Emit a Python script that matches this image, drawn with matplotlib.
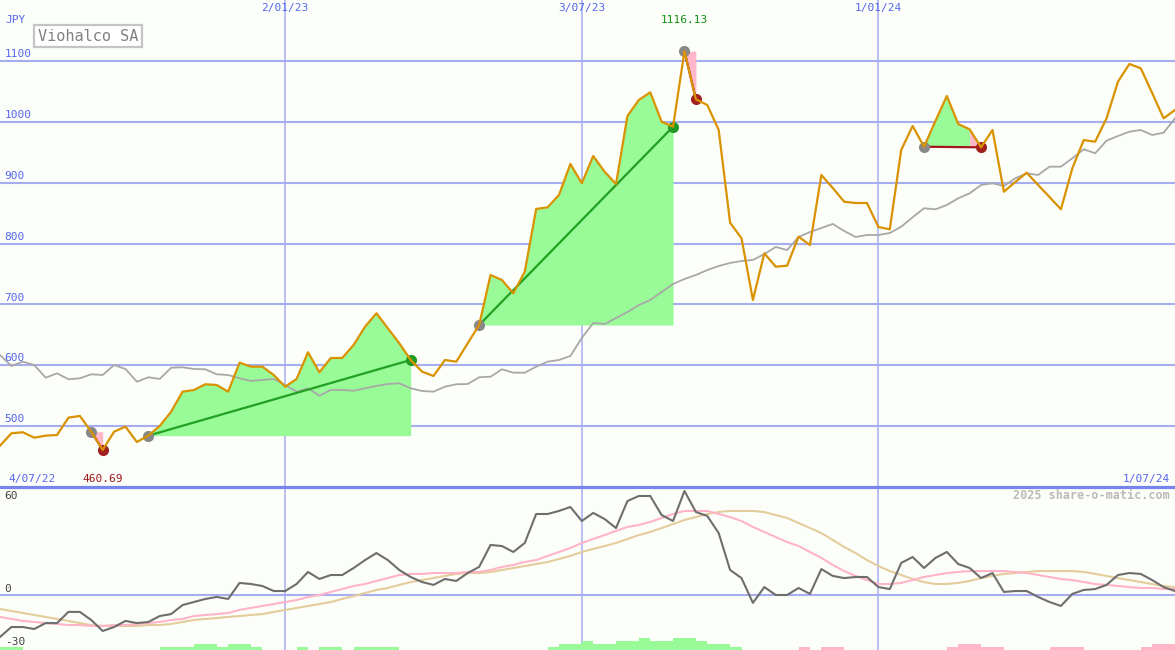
import numpy as np
import pandas as pd
import matplotlib
matplotlib.use("Agg")
import matplotlib.pyplot as plt

# -----------------------------
# Weekly data
# -----------------------------
dates = pd.date_range("2022-07-11", periods=104, freq="7D")

price = [
    467.6, 488.0, 489.7, 480.8, 484.1, 485.2, 513.7, 516.5, 490.6, 460.69,
    490.6, 498.9, 473.7, 484.1, 500.0, 523.5, 556.4, 559.2, 568.6, 567.4,
    556.4, 604.1, 597.5, 597.5, 583.8, 564.6, 577.3, 621.2, 588.3, 611.8,
    611.8, 633.2, 663.2, 685.3, 660.6, 636.0, 608.5, 589.3, 582.2, 608.5,
    605.7, 636.0, 666.0, 748.2, 740.0, 718.1, 753.7, 856.7, 859.5, 879.7,
    930.7, 899.0, 943.8, 918.0, 897.8, 1009.6, 1035.9, 1048.5, 1000.2, 992.0,
    1116.13, 1037.0, 1027.7, 986.6, 834.2, 808.6, 707.1, 783.9, 761.9, 763.5,
    811.2, 797.5, 912.6, 891.2, 868.7, 866.6, 866.6, 827.1, 823.3, 953.7,
    993.2, 959.1, 1001.4, 1042.5, 996.4, 987.7, 958.1, 986.6, 885.2, 901.1,
    916.4, 896.2, 876.4, 856.2, 923.6, 970.1, 967.3, 1005.8, 1066.0, 1095.1,
    1088.0, 1047.4, 1005.8, 1019.5,
]

moving_avg = [
    616.7, 598.6, 605.7, 600.3, 579.4, 586.6, 576.8, 578.4, 585.0, 583.8,
    600.3, 593.7, 572.8, 580.1, 577.3, 595.8, 596.5, 593.7, 593.2, 585.0,
    583.8, 578.4, 574.0, 575.6, 577.3, 567.4, 556.4, 562.0, 549.8, 559.2,
    559.2, 558.0, 562.0, 565.8, 569.0, 570.2, 562.0, 557.5, 556.4, 564.6,
    568.6, 569.0, 580.1, 581.0, 593.2, 587.6, 587.6, 597.5, 605.7, 608.5,
    615.1, 644.7, 669.3, 667.7, 677.5, 687.4, 698.9, 707.1, 720.3, 733.4,
    741.7, 748.2, 756.4, 763.0, 768.0, 771.2, 772.9, 782.7, 794.3, 789.3,
    810.7, 818.9, 825.5, 832.1, 820.6, 810.7, 814.0, 814.0, 817.3, 827.6,
    843.1, 857.9, 856.2, 863.3, 874.3, 882.5, 896.2, 899.0, 894.5, 907.2,
    915.4, 912.6, 926.3, 926.3, 940.1, 954.9, 948.3, 969.0, 976.7, 983.8,
    986.6, 978.4, 982.1, 1005.8,
]

oscillator = [
    -23.3, -17.8, -17.8, -18.9, -15.6, -15.6, -9.4, -9.4, -13.9, -20.0,
    -17.8, -14.4, -15.6, -15.0, -11.7, -10.6, -5.6, -3.9, -2.2, -1.1,
    -2.2, 6.7, 6.1, 5.0, 2.2, 2.2, 6.1, 12.8, 8.9, 11.1,
    11.1, 15.0, 19.4, 23.3, 19.4, 13.9, 10.0, 7.2, 5.6, 8.9,
    7.8, 12.2, 15.6, 27.8, 27.2, 23.9, 28.9, 45.0, 45.0, 46.7,
    48.9, 41.1, 45.6, 42.2, 37.2, 52.2, 55.0, 55.0, 44.4, 41.1,
    57.8, 46.1, 43.9, 34.4, 13.9, 9.4, -4.4, 4.4, 0.0, 0.0,
    3.9, 0.6, 14.4, 10.6, 9.4, 10.0, 10.0, 4.4, 3.3, 17.8,
    21.1, 15.0, 20.6, 23.9, 17.2, 15.0, 9.4, 12.2, 1.7, 2.2,
    2.2, -1.1, -3.9, -6.1, 0.6, 2.8, 3.3, 5.6, 11.1, 12.2,
    11.7, 8.3, 4.4, 2.2,
]

signal_fast = [
    -12.2, -13.3, -14.4, -15.0, -15.6, -16.1, -16.7, -16.7, -17.2, -17.2,
    -16.7, -16.7, -16.1, -15.6, -15.0, -13.9, -13.3, -11.7, -11.1, -10.6,
    -10.0, -8.3, -7.2, -6.1, -5.0, -3.9, -2.8, -1.1, 0.0, 1.7,
    3.3, 5.0, 6.1, 7.8, 9.4, 11.1, 11.7, 11.7, 12.2, 12.2,
    12.2, 12.8, 12.8, 13.9, 15.6, 16.7, 18.3, 19.4, 21.7, 23.9,
    26.1, 28.9, 31.1, 33.3, 35.6, 37.8, 38.9, 40.6, 42.8, 45.0,
    46.7, 46.7, 46.7, 45.0, 43.3, 41.1, 37.8, 35.0, 32.2, 29.4,
    27.2, 23.9, 20.6, 16.7, 13.3, 10.6, 8.3, 6.1, 6.1, 6.7,
    8.3, 10.0, 11.1, 12.2, 12.8, 13.3, 13.3, 13.3, 13.3, 12.8,
    12.2, 11.1, 10.0, 8.9, 8.3, 7.2, 6.1, 5.6, 5.0, 4.4,
    3.9, 3.9, 3.3, 3.3,
]

signal_slow = [
    -7.8, -8.9, -10.0, -11.1, -12.2, -13.3, -14.4, -15.6, -16.7, -17.2,
    -17.2, -17.2, -17.2, -16.7, -16.7, -16.1, -15.0, -13.9, -13.3, -12.8,
    -12.2, -11.7, -11.1, -10.6, -9.4, -8.3, -7.2, -6.1, -5.0, -3.9,
    -2.2, -0.6, 1.1, 2.8, 3.9, 5.6, 7.2, 8.3, 9.4, 10.6,
    11.7, 12.2, 12.2, 12.8, 13.9, 15.0, 16.1, 17.2, 18.3, 20.0,
    21.7, 23.9, 25.6, 27.2, 28.9, 31.1, 33.3, 35.0, 37.2, 39.4,
    41.7, 43.3, 45.0, 46.1, 46.7, 46.7, 46.7, 46.1, 44.4, 42.8,
    40.0, 37.2, 34.4, 30.6, 26.7, 23.3, 19.4, 16.1, 13.3, 11.1,
    8.9, 7.2, 6.1, 6.1, 6.7, 7.8, 9.4, 10.6, 11.7, 12.2,
    12.8, 13.3, 13.3, 13.3, 13.3, 12.8, 11.7, 10.6, 9.4, 8.3,
    7.2, 6.1, 5.0, 4.4,
]

histogram = [
    1.7, 1.7, 0, 0, 0, 0, 0, 0, 0, 0,
    0, 0, 0, 0, 1.7, 1.7, 1.7, 3.3, 3.3, 1.7,
    3.3, 3.3, 1.7, 0, 0, 0, 1.7, 0, 1.7, 1.7,
    0, 1.7, 1.7, 1.7, 1.7, 0, 0, 0, 0, 0,
    0, 0, 0, 0, 0, 0, 0, 0, 1.7, 3.3,
    3.3, 5.0, 3.3, 3.3, 5.0, 5.0, 6.7, 5.0, 5.0, 6.7,
    6.7, 5.0, 3.3, 3.3, 1.7, 0, 0, 0, 0, 0,
    -1.7, 0, -1.7, -1.7, 0, 0, 0, 0, 0, 0,
    0, 0, 0, -1.7, -3.3, -3.3, -1.7, -1.7, 0, 0,
    0, 0, -1.7, -1.7, -1.7, 0, 0, 0, 0, 0,
    -1.7, -3.3, -3.3, 0,
]

# buy/sell signal windows (start week, end week)
signals = [(8, 9), (13, 36), (42, 59), (60, 61), (81, 86)]

price_ticks = [500, 600, 700, 800, 900, 1000, 1100]
date_ticks = pd.to_datetime(["2023-01-02", "2023-07-03", "2024-01-01"])

# -----------------------------
# Colours
# -----------------------------
BG = "#FCFEFA"
GRID = "#A6AEF0"
AXIS_BLUE = "#5566EE"
ORANGE = "#D99200"
GAIN = "#98FB98"
LOSS = "#FFB6C8"

plt.rcParams["font.family"] = ["DejaVu Sans Mono"]

fig = plt.figure(figsize=(11.75, 6.5), dpi=100, facecolor=BG)
split = 163 / 650
ax1 = fig.add_axes([0, split, 1, 1 - split])
ax2 = fig.add_axes([0, 0, 1, split])

for ax in (ax1, ax2):
    ax.set_facecolor(BG)
    ax.set_xlim(dates[0], dates[-1])
    ax.set_xticks([])
    ax.set_yticks([])
    for s in ax.spines.values():
        s.set_visible(False)
    for d in date_ticks:
        ax.axvline(d, color=GRID, lw=1.1, zorder=1)

# -----------------------------
# Price panel
# -----------------------------
ax1.set_ylim(399.7, 1200.3)
for v in price_ticks:
    ax1.axhline(v, color=GRID, lw=1.5, zorder=1)

price_arr = np.array(price)
x = dates
for s, e in signals:
    base = price_arr[s]
    gain = price_arr[e] > base
    if gain:
        ax1.fill_between(x[s:e + 1], price_arr[s:e + 1], base,
                         where=price_arr[s:e + 1] >= base, interpolate=True,
                         color=GAIN, lw=0, zorder=2)
    else:
        if e - 1 > s:
            ax1.fill_between(x[s:e], price_arr[s:e], base,
                             where=price_arr[s:e] >= base, interpolate=True,
                             color=GAIN, lw=0, zorder=2)
        ax1.fill_between(x[e - 1:e + 1], price_arr[e - 1:e + 1], base,
                         color=LOSS, lw=0, zorder=2)
    ax1.plot([x[s], x[e]], [price_arr[s], price_arr[e]],
             color="#22A022" if gain else "#A01818", lw=1.6, zorder=4)

ax1.plot(dates, moving_avg, color="#A8A8A8", lw=1.3, zorder=3)

for s, e in signals:
    gain = price_arr[e] > price_arr[s]
    ax1.plot(x[s], price_arr[s], "o", ms=8, color="#888888", mec="none", zorder=5)
    ax1.plot(x[e], price_arr[e], "o", ms=8, mec="none", zorder=5,
             color="#229922" if gain else "#A02020")

ax1.plot(dates, price, color=ORANGE, lw=1.6, zorder=6)

ytr = ax1.get_yaxis_transform()
xtr = ax1.get_xaxis_transform()
for v in price_ticks:
    ax1.text(0.004, v + 3, str(v), transform=ytr, color=AXIS_BLUE,
             fontsize=8, va="bottom", ha="left")
for d in date_ticks:
    ax1.text(d, 0.984, f"{d.day}/{d.month:02d}/{d.year % 100:02d}",
             transform=xtr, color=AXIS_BLUE, fontsize=8, ha="center", va="center")

ax1.text(0.005, 0.959, "JPY", transform=ax1.transAxes, color=AXIS_BLUE,
         fontsize=8, va="center")
ax1.text(0.032, 0.926, "Viohalco SA", transform=ax1.transAxes, color="#808080",
         fontsize=11, va="center",
         bbox=dict(boxstyle="square,pad=0.25", fc="white", ec="#C4C4C4", lw=1.6))
ax1.text(0.007, 0.0164, "4/07/22", transform=ax1.transAxes, color=AXIS_BLUE,
         fontsize=8, va="center")
ax1.text(0.9957, 0.0164, "1/07/24", transform=ax1.transAxes, color=AXIS_BLUE,
         fontsize=8, va="center", ha="right")

lo = int(np.argmin(price_arr))
hi = int(np.argmax(price_arr))
ax1.text(x[lo], 0.0164, f"{price_arr[lo]:.2f}", transform=xtr, color="#A01818",
         fontsize=8, ha="center", va="center")
ax1.text(x[hi], 0.959, f"{price_arr[hi]:.2f}", transform=xtr, color="#109010",
         fontsize=8, ha="center", va="center")

# -----------------------------
# Oscillator panel
# -----------------------------
ymin2 = -30.56
ax2.set_ylim(ymin2, 60)
ax2.axhline(0, color=GRID, lw=1.5, zorder=1)
ax2.spines["top"].set_visible(True)
ax2.spines["top"].set_color("#7585EC")
ax2.spines["top"].set_linewidth(2.3)

hist = np.array(histogram)
ax2.bar(dates, np.abs(hist), width=7, align="edge", bottom=ymin2,
        color=[GAIN if h > 0 else LOSS for h in hist], lw=0, zorder=2)

ax2.plot(dates, signal_slow, color="#E4CC9C", lw=1.5, zorder=3)
ax2.plot(dates, signal_fast, color="#FFB4C8", lw=1.5, zorder=3)
ax2.plot(dates, oscillator, color="#6E6E6E", lw=1.5, zorder=4)

ax2.text(0.004, 0.945, "60", transform=ax2.transAxes, color="#444444",
         fontsize=8, va="center")
ax2.text(0.004, 0.374, "0", transform=ax2.transAxes, color="#444444",
         fontsize=8, va="center")
ax2.text(0.004, 0.049, "-30", transform=ax2.transAxes, color="#444444",
         fontsize=8, va="center")
ax2.text(0.9957, 0.945, "2025 share-o-matic.com", transform=ax2.transAxes,
         color="#BBBBBB", fontsize=8.5, fontweight="bold", ha="right", va="center")

fig.savefig("out.png", dpi=100, facecolor=BG)
